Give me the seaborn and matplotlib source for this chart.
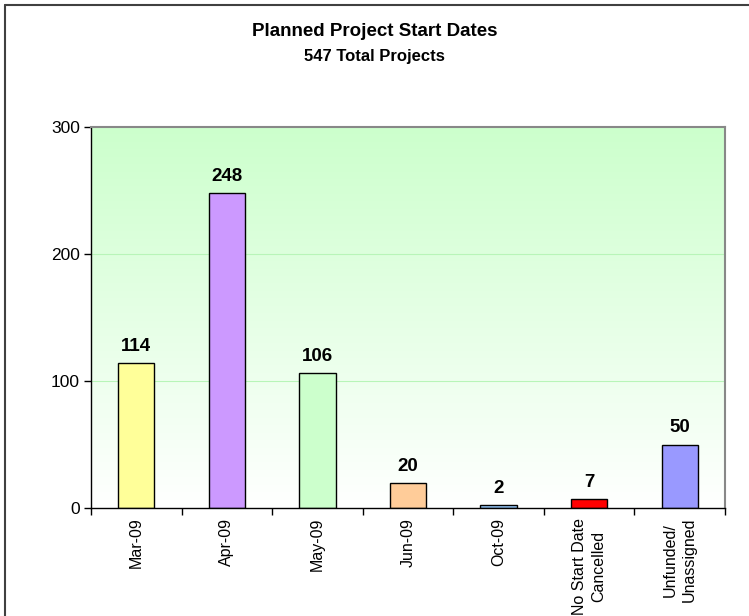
import numpy as np
import pandas as pd
import matplotlib
matplotlib.use("Agg")
import matplotlib.pyplot as plt
import seaborn as sns
from matplotlib.colors import LinearSegmentedColormap
from matplotlib.lines import Line2D

categories = ["Mar-09", "Apr-09", "May-09", "Jun-09", "Oct-09",
              "No Start Date\nCancelled", "Unfunded/\nUnassigned"]
projects = [114, 248, 106, 20, 2, 7, 50]
bar_colors = ["#FFFF99", "#CC99FF", "#CCFFCC", "#FFCC99", "#99CCFF", "#FF0000", "#9999FF"]
y_ticks = [0, 100, 200, 300]

sns.set_style("white")
plt.rcParams['font.family'] = ['Liberation Sans', 'DejaVu Sans']
plt.rcParams['text.color'] = 'black'
plt.rcParams['xtick.color'] = 'black'
plt.rcParams['ytick.color'] = 'black'

df = pd.DataFrame({"category": categories, "projects": projects})

fig = plt.figure(figsize=(7.49, 6.16), dpi=100)
ax = fig.add_axes([91/749, 1 - 508/616, (725 - 91)/749, (508 - 127)/616])

# gradient background, green at top fading to white
grad = LinearSegmentedColormap.from_list("bg", ["#FFFFFF", "#CCFFCC"])
ax.imshow(np.linspace(0, 1, 256).reshape(-1, 1), cmap=grad, origin="lower",
          extent=[-0.5, len(categories) - 0.5, 0, 300], aspect="auto", zorder=0)
for yv in [100, 200]:
    ax.axhline(yv, color="#B8F5B8", lw=0.8, zorder=1)

sns.barplot(data=df, x="category", y="projects", hue="category", palette=bar_colors,
            saturation=1, width=0.4, edgecolor="black", linewidth=1, legend=False,
            ax=ax, zorder=2)

for i, v in enumerate(projects):
    ax.annotate(str(v), (i, v), xytext=(0, 8), textcoords="offset pixels",
                ha="center", va="bottom", fontsize=13.5, fontweight="bold", zorder=3)

ax.set_xlim(-0.5, len(categories) - 0.5)
ax.set_ylim(0, 300)
ax.set_yticks(y_ticks)
ax.set_yticklabels([str(t) for t in y_ticks], fontsize=12.5)
ax.set_xticks(range(len(categories)))
ax.set_xticklabels(categories, rotation=90, fontsize=11.5, va="top", ha="center",
                   linespacing=1.3)
ax.tick_params(axis="x", length=0, pad=7)
ax.tick_params(axis="y", direction="out", length=5, width=1, left=True, pad=3)
ax.set_xticks(np.arange(-0.5, len(categories) + 0.5, 1), minor=True)
ax.tick_params(axis="x", which="minor", direction="out", length=5, width=1, bottom=True)
ax.set_xlabel("")
ax.set_ylabel("")

for side in ["left", "bottom"]:
    ax.spines[side].set_color("black")
    ax.spines[side].set_linewidth(1)
for side in ["top", "right"]:
    ax.spines[side].set_color("#888888")
    ax.spines[side].set_linewidth(1.5)

fig.text(0.5, 1 - 32/616, "Planned Project Start Dates", ha="center", va="center",
         fontsize=13.5, fontweight="bold")
fig.text(0.5, 1 - 57/616, "547 Total Projects", ha="center", va="center",
         fontsize=12, fontweight="bold")

# chart area border (left and top edges visible)
fig.add_artist(Line2D([4.5/749, 4.5/749], [0, 1 - 4.5/616], color="#404040", lw=1.5,
                      transform=fig.transFigure))
fig.add_artist(Line2D([4.5/749, 1], [1 - 4.5/616, 1 - 4.5/616], color="#404040", lw=1.5,
                      transform=fig.transFigure))

fig.savefig("out.png", dpi=100)
